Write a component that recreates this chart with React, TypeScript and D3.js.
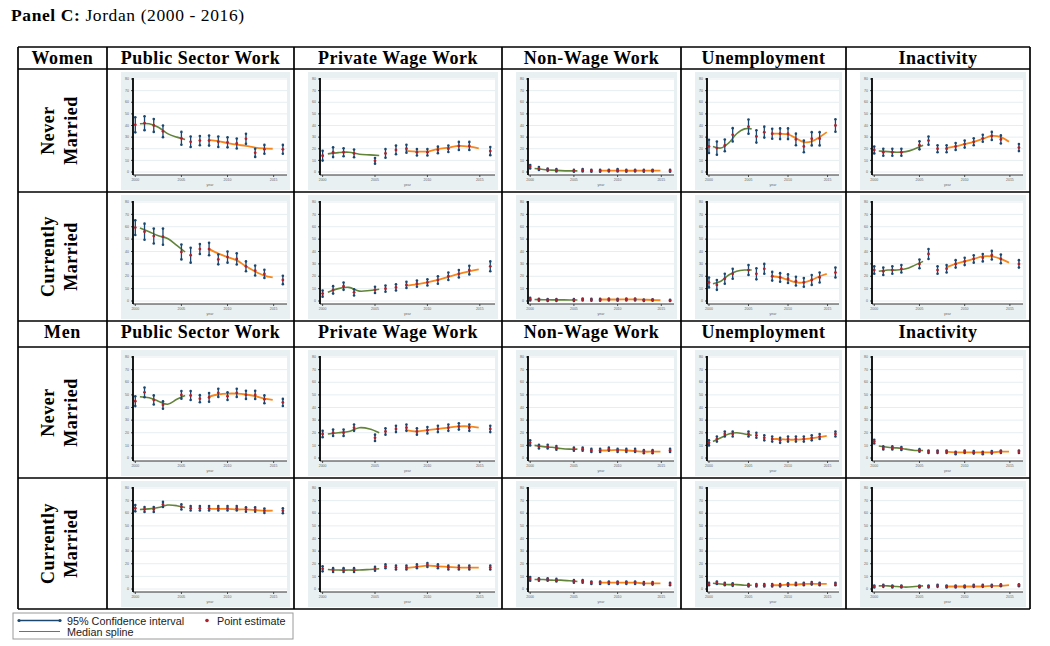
import React from "react";
import * as d3 from "d3";

// ---------- data ----------
const years = [2000, 2001, 2002, 2003, 2005, 2006, 2007, 2008, 2009, 2010, 2011, 2012, 2013, 2014, 2016];
const greenYears = [2000.5, 2001.5, 2002.5, 2003.5, 2004.5, 2005.4];
const orangeYears = [2007.9, 2009, 2010, 2011, 2012, 2013, 2014, 2014.9];
const xTicks = [2000, 2005, 2010, 2015];
const yTicks = [0, 10, 20, 30, 40, 50, 60, 70, 80];
const columnHeaders = ["Public Sector Work", "Private Wage Work", "Non-Wage Work", "Unemployment", "Inactivity"];
const groupLabels = ["Women", "Men"];
const statusLabels = [["Never", "Married"], ["Currently", "Married"]];
const legendLabels = ["95% Confidence interval", "Point estimate", "Median spline"];

// Women, never married
const wNmPubEst = [40.6, 42, 40, 35, 29, 26, 27, 27, 26, 25.5, 24.5, 28.5, 16.5, 19.5, 19.5];
const wNmPubCi = [6.5, 6, 5.5, 5, 5.5, 4.5, 4, 4.3, 4.5, 4.3, 4.3, 4.3, 3.5, 3.8, 3.8];
const wNmPubGreen = [41.5, 41.5, 38.5, 33, 30, 28];
const wNmPubOrange = [27.7, 26.5, 24.9, 23.5, 22.5, 21, 20.3, 20];

const wNmPrvEst = [14, 17, 17, 16, 9.6, 16, 19, 20, 17, 17, 19, 20, 22.4, 22.4, 18];
const wNmPrvCi = [4.2, 4.2, 3.4, 3.3, 2.4, 3.7, 3.7, 3.4, 2.8, 2.8, 2.8, 2.8, 3.5, 3.5, 3.5];
const wNmPrvGreen = [15.6, 16.7, 17, 15.3, 14.7, 14.2];
const wNmPrvOrange = [18.1, 17.6, 17.6, 19.8, 21, 22.4, 21.8, 20.4];

const wNmNwEst = [4.5, 3, 2, 1.5, 1, 1.5, 1, 1, 1.2, 1.5, 1, 1.2, 1, 1.2, 1];
const wNmNwCi = [1.5, 1.2, 1, 1, 0.8, 1, 0.8, 0.8, 0.8, 1, 0.8, 0.8, 0.8, 0.8, 0.8];
const wNmNwGreen = [3, 2.2, 1.6, 1.2, 1, 1];
const wNmNwOrange = [1.2, 1.2, 1.2, 1.1, 1.1, 1.1, 1.1, 1.1];

const wNmUnEst = [22, 20.6, 22.9, 32, 39, 30.6, 34.3, 32.9, 32.9, 32.9, 28, 22, 28.6, 28.6, 40];
const wNmUnCi = [5.7, 5.7, 5.1, 5.7, 6.1, 5.3, 4.7, 4.3, 4.6, 4.6, 5, 5, 5.7, 5.7, 5.4];
const wNmUnGreen = [22, 20.6, 25, 32.9, 37.1, 37.1];
const wNmUnOrange = [32.9, 32.9, 32.3, 29.1, 25.7, 26.3, 30, 34.3];

const wNmInEst = [19, 17, 17, 17, 23, 27, 20, 20, 22, 24, 26, 29, 31, 28, 21];
const wNmInCi = [3, 3, 3, 3, 3.5, 3.5, 3, 3, 3, 3, 3, 3, 3.5, 3.5, 3];
const wNmInGreen = [18, 17.5, 17, 17.5, 20, 23];
const wNmInOrange = [20.5, 22, 24, 26, 28.5, 31, 30, 26];

// Women, currently married
const wCmPubEst = [59.3, 56, 52.5, 52, 39.6, 37, 42, 42, 33.6, 35.5, 34, 28, 24.6, 21.9, 17];
const wCmPubCi = [6, 6.5, 6, 6.5, 6, 6, 4, 5, 4, 4.5, 4.5, 4, 4, 3.3, 3.4];
const wCmPubGreen = [59, 56, 52.7, 50.5, 45, 39.6];
const wCmPubOrange = [42.3, 38.3, 35.5, 32.8, 28, 23.8, 20.5, 19];

const wCmPrvEst = [6, 9, 12, 7, 9, 10, 11, 13, 14, 15, 17, 20, 22, 25, 28];
const wCmPrvCi = [2.5, 3, 3, 2.5, 2.5, 2.5, 2.5, 2.5, 2.5, 2.5, 3, 3, 3, 3.5, 4];
const wCmPrvGreen = [7, 10, 11, 8, 8.5, 9.5];
const wCmPrvOrange = [12.5, 13.5, 15, 17, 19.5, 22, 24, 25.5];

const wCmNwEst = [1.5, 1, 0.8, 0.8, 0.8, 1.2, 1, 1, 1.2, 1, 1.2, 1.2, 0.6, 0.8, 0.5];
const wCmNwCi = [1, 0.8, 0.7, 0.7, 0.7, 0.8, 0.7, 0.7, 0.8, 0.7, 0.8, 0.8, 0.6, 0.6, 0.5];
const wCmNwGreen = [1.2, 1, 0.9, 0.9, 0.8, 0.8];
const wCmNwOrange = [1.2, 1.2, 1.2, 1.3, 1.3, 1.1, 0.8, 0.6];

const wCmUnEst = [15, 13, 18, 22, 25, 22, 26, 20, 19, 18, 16, 15, 17, 19, 23];
const wCmUnCi = [4, 4, 4, 4, 4, 4.5, 4, 3.5, 3.5, 3.5, 3.5, 3.5, 4, 4, 4];
const wCmUnGreen = [14, 16, 21, 24, 25, 25];
const wCmUnOrange = [20, 19, 17, 15, 15, 17, 20, 22];

const wCmInEst = [25, 24, 25, 26, 30, 38, 25, 26, 30, 32, 34, 35, 37, 34, 30];
const wCmInCi = [3, 3, 3, 3, 3.5, 4, 3, 3, 3, 3, 3, 3, 3.5, 3.5, 3];
const wCmInGreen = [24, 25, 25, 26, 29, 32];
const wCmInOrange = [27, 30, 32, 34, 36, 36, 34, 31];

// Men, never married
const mNmPubEst = [45, 52, 46, 42, 50, 49.5, 47, 48, 51.6, 49, 51.6, 50, 50, 46.5, 44];
const mNmPubCi = [3.9, 3.9, 3.6, 3, 3, 3.5, 2.8, 3.4, 3.2, 3.1, 3.2, 3.2, 3.2, 3.1, 2.8];
const mNmPubGreen = [48.5, 47.7, 45, 42.6, 46.5, 49.5];
const mNmPubOrange = [48.5, 50.3, 51, 51, 50.3, 49, 47, 46];

const mNmPrvEst = [19, 20, 20, 24, 16, 21, 23, 24, 21, 22, 23, 24, 25, 24, 23];
const mNmPrvCi = [2.5, 2.5, 2.5, 2.5, 2.5, 2.5, 2.5, 2.5, 2.5, 2.5, 2.5, 2.5, 2.5, 2.5, 2.5];
const mNmPrvGreen = [19, 20, 21, 24, 23, 20];
const mNmPrvOrange = [22, 21, 22, 23, 24, 25, 25, 24];

const mNmNwEst = [12, 9, 9, 8, 7, 7, 6, 6, 7, 6, 6, 6, 5, 5, 6];
const mNmNwCi = [2, 1.5, 1.5, 1.5, 1.2, 1.2, 1.2, 1.2, 1.2, 1.2, 1.2, 1.2, 1.2, 1.2, 1.2];
const mNmNwGreen = [10, 9, 8.5, 7.5, 7, 7];
const mNmNwOrange = [6, 6, 6.5, 6, 5.5, 5, 5, 5];

const mNmUnEst = [12, 15, 19, 19, 19, 18, 16, 15, 14, 15, 15, 15, 16, 17, 19];
const mNmUnCi = [2, 2, 2, 2, 2, 2, 2, 2, 2, 2, 2, 2, 2, 2, 2];
const mNmUnGreen = [13, 16, 19, 20, 19, 18];
const mNmUnOrange = [15, 15, 14.5, 14.5, 15, 15.5, 16.5, 17.5];

const mNmInEst = [13, 8, 8, 7.5, 6, 5, 5, 5, 4, 5, 4.5, 4, 4.5, 5, 5];
const mNmInCi = [1.5, 1.2, 1.2, 1.2, 1, 1, 1, 1, 1, 1, 1, 1, 1, 1, 1];
const mNmInGreen = [9.5, 8.5, 8, 7, 6, 6];
const mNmInOrange = [5, 4.5, 4.5, 4.5, 4.5, 4.5, 5, 5];

// Men, currently married
const mCmPubEst = [64, 63, 63, 67, 65, 64, 64, 64, 64, 64, 64, 63, 63, 62, 62];
const mCmPubCi = [2.5, 2, 2, 2, 2, 1.8, 1.8, 1.8, 1.8, 1.8, 1.8, 1.8, 1.8, 1.8, 2];
const mCmPubGreen = [63, 63.5, 64.5, 66.5, 66, 64.5];
const mCmPubOrange = [63.5, 63.5, 63.5, 63, 63, 62.5, 62, 62];

const mCmPrvEst = [16, 15, 15, 15, 16, 18, 17, 17, 18, 19, 18, 17, 17, 17, 17];
const mCmPrvCi = [2, 1.5, 1.5, 1.5, 1.5, 1.5, 1.5, 1.5, 1.5, 1.5, 1.5, 1.5, 1.5, 1.5, 1.5];
const mCmPrvGreen = [15.5, 15, 15, 15, 15.5, 16];
const mCmPrvOrange = [16.5, 17.5, 18.5, 18, 17.5, 17, 17, 17];

const mCmNwEst = [8, 7.5, 7.5, 7, 6, 6, 5, 5, 5, 5, 5, 5, 4.5, 4.5, 4];
const mCmNwCi = [1.5, 1, 1, 1, 1, 1, 1, 1, 1, 1, 1, 1, 1, 1, 1];
const mCmNwGreen = [7.5, 7.5, 7, 7, 6.5, 6];
const mCmNwOrange = [5, 5, 5, 5, 5, 4.5, 4.5, 4.5];

const mCmUnEst = [4, 5, 4, 3.5, 3, 3, 3, 3, 3, 3.5, 4, 4, 4.5, 4, 4];
const mCmUnCi = [1, 1, 1, 1, 1, 1, 1, 1, 1, 1, 1, 1, 1, 1, 1];
const mCmUnGreen = [4.5, 4, 3.5, 3.5, 3, 3];
const mCmUnOrange = [3, 3, 3.5, 3.5, 4, 4, 4, 4];

const mCmInEst = [2, 2.5, 2, 2, 2, 2, 2.5, 2, 2, 2, 2.5, 2.5, 2.5, 3, 3];
const mCmInCi = [0.8, 0.8, 0.8, 0.8, 0.8, 0.8, 0.8, 0.8, 0.8, 0.8, 0.8, 0.8, 0.8, 0.8, 0.8];
const mCmInGreen = [2.5, 2.5, 2, 1.5, 2, 2.5];
const mCmInOrange = [2, 2, 2, 2, 2, 2.5, 2.5, 3];

const panelData = [
  [
    [wNmPubEst, wNmPubCi, wNmPubGreen, wNmPubOrange],
    [wNmPrvEst, wNmPrvCi, wNmPrvGreen, wNmPrvOrange],
    [wNmNwEst, wNmNwCi, wNmNwGreen, wNmNwOrange],
    [wNmUnEst, wNmUnCi, wNmUnGreen, wNmUnOrange],
    [wNmInEst, wNmInCi, wNmInGreen, wNmInOrange],
  ],
  [
    [wCmPubEst, wCmPubCi, wCmPubGreen, wCmPubOrange],
    [wCmPrvEst, wCmPrvCi, wCmPrvGreen, wCmPrvOrange],
    [wCmNwEst, wCmNwCi, wCmNwGreen, wCmNwOrange],
    [wCmUnEst, wCmUnCi, wCmUnGreen, wCmUnOrange],
    [wCmInEst, wCmInCi, wCmInGreen, wCmInOrange],
  ],
  [
    [mNmPubEst, mNmPubCi, mNmPubGreen, mNmPubOrange],
    [mNmPrvEst, mNmPrvCi, mNmPrvGreen, mNmPrvOrange],
    [mNmNwEst, mNmNwCi, mNmNwGreen, mNmNwOrange],
    [mNmUnEst, mNmUnCi, mNmUnGreen, mNmUnOrange],
    [mNmInEst, mNmInCi, mNmInGreen, mNmInOrange],
  ],
  [
    [mCmPubEst, mCmPubCi, mCmPubGreen, mCmPubOrange],
    [mCmPrvEst, mCmPrvCi, mCmPrvGreen, mCmPrvOrange],
    [mCmNwEst, mCmNwCi, mCmNwGreen, mCmNwOrange],
    [mCmUnEst, mCmUnCi, mCmUnGreen, mCmUnOrange],
    [mCmInEst, mCmInCi, mCmInGreen, mCmInOrange],
  ],
];

// ---------- layout & style ----------
const W = 1050;
const H = 646;
const colX = [18, 107, 294, 502, 681, 846, 1030];
const rowY = [47, 69, 192, 321, 347, 478, 609];
const panelRowBands = [[1, 2], [2, 3], [4, 5], [5, 6]];
const serif = "'Liberation Serif', 'Times New Roman', serif";
const sans = "'Liberation Sans', Arial, sans-serif";
const C_BG = "#e8f0f2";
const C_GRID = "#e6eef1";
const C_CI = "#1a476f";
const C_PT = "#b0202a";
const C_GREEN = "#62843a";
const C_ORANGE = "#f7871c";

function Panel({ x0, x1, y0, y1, est, ci, green, orange }: any) {
  const left = x0 + 12;
  const right = x1 - 3;
  const top = y0 + 6;
  const bottom = y1 - 15;
  const x = d3.scaleLinear().domain([1999.75, 2016.45]).range([left, right]);
  const y = d3.scaleLinear().domain([0, 80]).range([bottom - 3, top + 1]);
  const line = d3
    .line<[number, number]>()
    .x((d) => x(d[0]))
    .y((d) => y(d[1]))
    .curve(d3.curveCatmullRom.alpha(0.5));
  const gPath = line(greenYears.map((yr, i) => [yr, green[i]]));
  const oPath = line(orangeYears.map((yr, i) => [yr, orange[i]]));
  return (
    <g>
      <rect x={x0} y={y0} width={x1 - x0} height={y1 - y0} fill={C_BG} />
      <rect x={left} y={top} width={right - left} height={bottom - top} fill="#fff" />
      {yTicks.map((t) => (
        <line key={"g" + t} x1={left} x2={right} y1={y(t)} y2={y(t)} stroke={C_GRID} strokeWidth={1} />
      ))}
      {yTicks.map((t) => (
        <g key={"t" + t}>
          <line x1={left - 2} x2={left} y1={y(t)} y2={y(t)} stroke="#222" strokeWidth={0.8} />
          <text x={left - 4} y={y(t) + 1.2} fontSize={3.5} fill="#666" textAnchor="end" fontFamily={sans}>
            {t}
          </text>
        </g>
      ))}
      {xTicks.map((t) => (
        <g key={"x" + t}>
          <line x1={x(t)} x2={x(t)} y1={bottom} y2={bottom + 2} stroke="#222" strokeWidth={0.8} />
          <text x={x(t)} y={bottom + 6} fontSize={3.5} fill="#666" textAnchor="middle" fontFamily={sans}>
            {t}
          </text>
        </g>
      ))}
      <text x={(left + right) / 2} y={bottom + 10.5} fontSize={3.5} fill="#666" textAnchor="middle" fontFamily={sans}>
        year
      </text>
      <line x1={left} x2={right} y1={bottom} y2={bottom} stroke="#333" strokeWidth={1} />
      <line x1={left} x2={left} y1={top} y2={bottom} stroke="#000" strokeWidth={1.8} />
      {gPath && <path d={gPath} fill="none" stroke={C_GREEN} strokeWidth={1.6} />}
      {oPath && <path d={oPath} fill="none" stroke={C_ORANGE} strokeWidth={1.8} />}
      {years.map((yr, i) => {
        const lo = Math.max(0, est[i] - ci[i]);
        const hi = est[i] + ci[i];
        return (
          <g key={"p" + yr}>
            <line x1={x(yr)} x2={x(yr)} y1={y(lo)} y2={y(hi)} stroke={C_CI} strokeWidth={1.3} />
            <circle cx={x(yr)} cy={y(lo)} r={1.3} fill={C_CI} />
            <circle cx={x(yr)} cy={y(hi)} r={1.3} fill={C_CI} />
            <circle cx={x(yr)} cy={y(est[i])} r={1.4} fill={C_PT} />
          </g>
        );
      })}
    </g>
  );
}

export default function App() {
  const headerRows = [0, 3];
  return (
    <svg width={W} height={H} style={{ position: "absolute", left: 0, top: 0, background: "#fff" }}>
      <text x={11} y={21} fontFamily={serif} fontSize={17.5} letterSpacing={0.6} fill="#000">
        <tspan fontWeight="bold">Panel C:</tspan>
        <tspan> Jordan (2000 - 2016)</tspan>
      </text>

      {/* panels */}
      {panelData.map((rowPanels, r) =>
        rowPanels.map((p, c) => {
          const [a, b] = panelRowBands[r];
          return (
            <Panel
              key={r + "-" + c}
              x0={colX[c + 1] + 14}
              x1={colX[c + 2] - 4}
              y0={rowY[a] + 3}
              y1={rowY[b] - 2}
              est={p[0]}
              ci={p[1]}
              green={p[2]}
              orange={p[3]}
            />
          );
        })
      )}

      {/* header rows */}
      {headerRows.map((hr, gi) => (
        <g key={"h" + hr}>
          <text
            x={(colX[0] + colX[1]) / 2}
            y={rowY[hr] + 17}
            fontFamily={serif}
            fontWeight="bold"
            fontSize={18}
            letterSpacing={0.6}
            textAnchor="middle"
          >
            {groupLabels[gi]}
          </text>
          {columnHeaders.map((h, c) => (
            <text
              key={h}
              x={(colX[c + 1] + colX[c + 2]) / 2}
              y={rowY[hr] + 17}
              fontFamily={serif}
              fontWeight="bold"
              fontSize={18}
              letterSpacing={0.5}
              textAnchor="middle"
            >
              {h}
            </text>
          ))}
        </g>
      ))}

      {/* row labels */}
      {panelRowBands.map(([a, b], r) => {
        const cx = 59;
        const cy = (rowY[a] + rowY[b]) / 2;
        const lbl = statusLabels[r % 2];
        return (
          <g key={"rl" + r} transform={`translate(${cx},${cy}) rotate(-90)`}>
            {lbl.map((s, i) => (
              <text
                key={s}
                x={0}
                y={(i === 0 ? -11.5 : 11.5) + 6}
                fontFamily={serif}
                fontWeight="bold"
                fontSize={18}
                letterSpacing={0.5}
                textAnchor="middle"
              >
                {s}
              </text>
            ))}
          </g>
        );
      })}

      {/* table grid */}
      {rowY.map((yy) => (
        <line key={"hl" + yy} x1={colX[0]} x2={colX[colX.length - 1]} y1={yy} y2={yy} stroke="#000" strokeWidth={1.7} />
      ))}
      {colX.map((xx) => (
        <line key={"vl" + xx} x1={xx} x2={xx} y1={rowY[0]} y2={rowY[rowY.length - 1]} stroke="#000" strokeWidth={1.7} />
      ))}

      {/* legend */}
      <g>
        <rect x={13} y={613} width={280} height={26} fill="#fff" stroke="#9a9a9a" strokeWidth={1} />
        <line x1={19} x2={60} y1={620.5} y2={620.5} stroke={C_CI} strokeWidth={1.3} />
        <circle cx={19} cy={620.5} r={1.6} fill={C_CI} />
        <circle cx={60} cy={620.5} r={1.6} fill={C_CI} />
        <text x={67} y={624.5} fontFamily={sans} fontSize={10.8} fill="#222">
          {legendLabels[0]}
        </text>
        <circle cx={207} cy={620.5} r={1.8} fill={C_PT} />
        <text x={217} y={624.5} fontFamily={sans} fontSize={10.8} fill="#222">
          {legendLabels[1]}
        </text>
        <line x1={19} x2={60} y1={631.5} y2={631.5} stroke={C_GREEN} strokeWidth={1.2} />
        <text x={67} y={635.5} fontFamily={sans} fontSize={10.8} fill="#222">
          {legendLabels[2]}
        </text>
      </g>
    </svg>
  );
}
